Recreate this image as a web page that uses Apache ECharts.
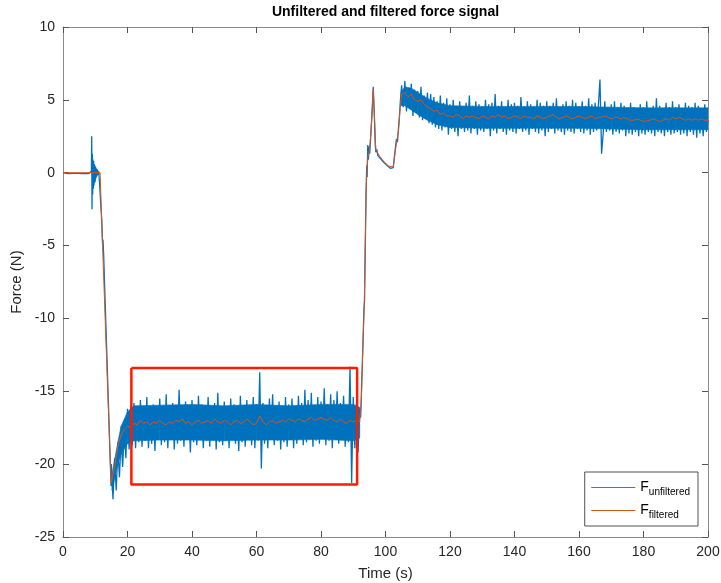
<!DOCTYPE html>
<html>
<head>
<meta charset="utf-8">
<script src="https://cdn.jsdelivr.net/npm/echarts@6/dist/echarts.min.js"></script>
<style>html,body{margin:0;padding:0;background:#fff}#c{width:721px;height:583px}</style>
</head>
<body>
<div id="c"></div>
<script>
// ---- data ----
const titleText = 'Unfiltered and filtered force signal';
const xTicks = [0, 20, 40, 60, 80, 100, 120, 140, 160, 180, 200];
const yTicks = [-25, -20, -15, -10, -5, 0, 5, 10];

// unfiltered signal pieces
const quietStart = 0, quietStep = 0.5;
const quietForce = [0,0.05,-0.05,0.04,-0.06,0.05,-0.04,0.06,-0.05,0.04,-0.05,0.06,-0.06,0.05,-0.04,0.05,-0.06,0.04];
const burstStart = 8.8, burstStep = 0.1;
const burstForce = [0.1,2.5,-2.5,1.3,-1.5,0.9,-1.1,0.8,-0.9,0.6,-0.7,0.5,-0.6,0.4,-0.4,0.3,-0.3,0.25,-0.2,0.2,-0.15,0.12,-0.1,0.08,-0.05,0.03,0];
const dropPoints = [[11.6,0],[12.0,-3.2],[12.2,-4.4],[12.3,-5.0],[12.4,-4.6],[12.6,-5.6],[14.9,-21.5]];
const plateauStart = 15, plateauStep = 0.5;
const plateauForce = [
 -20.0,-22.4,-19.6,-21.8,-19.0,-20.9,-18.3,-20.2,-17.6,-19.6,
 -16.2,-19.0,-16.0,-18.7,-15.8,-18.9,-16.4,-18.5,-15.6,-18.8,
 -16.1,-18.4,-15.4,-18.9,-16.3,-18.6,-15.9,-19.1,-16.2,-18.3,
 -15.5,-18.7,-16.0,-18.5,-15.2,-18.9,-16.3,-18.2,-15.8,-19.0,
 -16.1,-18.6,-14.9,-18.4,-16.0,-18.8,-15.7,-18.3,-16.2,-19.2,
 -15.6,-18.5,-16.1,-18.7,-15.3,-18.2,-15.9,-18.9,-16.3,-18.4,
 -15.4,-18.8,-16.0,-18.3,-15.8,-19.0,-15.1,-18.5,-16.2,-18.7,
 -15.7,-18.4,-16.1,-18.9,-15.5,-18.2,-15.9,-18.6,-16.3,-19.1,
 -15.3,-18.5,-16.0,-18.8,-15.6,-18.3,-16.2,-18.7,-15.4,-18.9,
 -15.9,-18.4,-13.7,-20.3,-15.8,-18.6,-16.1,-18.9,-15.5,-18.3,
 -15.2,-18.7,-16.0,-18.4,-15.7,-19.0,-16.2,-18.5,-15.4,-18.8,
 -15.9,-18.3,-15.5,-18.9,-16.1,-18.6,-15.3,-18.2,-15.8,-18.7,
 -14.9,-18.5,-15.6,-18.3,-15.1,-18.8,-16.0,-18.4,-15.4,-18.6,
 -15.7,-18.2,-14.8,-18.7,-15.9,-18.4,-15.2,-18.9,-15.6,-18.3,
 -15.0,-18.6,-15.8,-18.2,-15.3,-18.8,-16.0,-18.5,-13.3,-21.3,
 -15.4,-18.9,-15.8,-19.2,-16.2];
const risePoints = [[92.3,-16.8],[92.6,-14.5],[93.0,-11.8],[93.3,-9.4],[93.5,-8.8],[93.8,-4.0],[94.0,-1.0],[94.2,0.5],[94.3,-0.3],[94.5,1.9],[94.7,0.9],[94.9,1.8],[95.1,1.3],[95.4,2.4],[95.8,4.0],[96.2,5.9],[96.5,4.2],[96.8,2.0],[97.0,1.4],[97.3,1.6],[97.6,1.2],[98,1.25],[98.5,0.95],[99,1.0],[99.5,0.7],[100,0.75],[100.5,0.5],[101,0.45],[101.5,0.3],[102,0.4],[102.4,0.35],[102.8,1.2],[103.1,1.8],[103.4,2.3],[103.7,2.1],[104.0,3.0],[104.3,3.8],[104.6,4.9]];
const holdStart = 105, holdStep = 0.5;
const holdForce = [
 6.0,4.5,6.3,4.2,5.8,4.4,6.1,3.9,5.7,4.1,
 5.6,3.8,5.9,3.6,5.3,3.9,5.5,3.4,5.4,3.3,
 5.2,3.1,4.9,3.0,5.3,2.9,4.8,3.1,5.1,2.6,
 4.7,3.0,5.0,2.8,4.6,2.5,4.9,3.0,4.5,2.8,
 4.8,2.9,5.3,2.7,4.6,3.0,4.9,2.6,4.7,2.9,
 4.5,2.8,5.0,3.0,4.7,2.5,4.8,2.9,5.4,2.7,
 4.6,3.0,4.9,2.8,4.5,2.6,5.0,2.9,4.7,2.8,
 4.8,2.7,4.6,3.0,5.2,2.8,4.5,2.9,4.9,2.6,
 4.7,3.0,4.5,2.8,5.0,2.7,4.8,2.9,4.6,2.5,
 4.9,2.8,4.6,3.0,4.8,2.7,5.1,2.9,4.5,2.8,
 4.7,2.6,4.9,2.9,4.6,2.8,5.0,2.7,4.8,3.0,
 4.5,2.8,4.9,2.7,4.6,2.9,5.1,2.6,4.7,2.8,
 4.8,2.9,4.6,6.4,1.3,2.7,4.9,2.8,4.5,2.9,
 4.7,2.6,4.9,2.8,4.5,2.7,4.8,2.9,4.6,2.5,
 4.4,2.7,4.8,2.6,4.5,2.8,4.3,2.5,4.7,2.7,
 4.5,2.6,4.9,2.8,4.4,2.7,4.6,2.5,5.1,2.8,
 4.6,2.7,4.4,2.5,4.8,2.8,4.5,2.6,4.9,2.7,
 4.5,2.8,4.7,2.6,4.4,2.7,4.8,2.5,4.6,2.8,
 4.5,2.6,4.8,2.4,4.6,2.7,4.3,2.5,4.7,2.8,
 3.6];

// dense core of the unfiltered noise (envelope)
const plateauBandTime = [15.2, 16, 17, 18, 20, 22, 30, 40, 50, 60, 70, 80, 90, 92];
const plateauBandHigh = [-20.7, -19.7, -18.5, -17.4, -16.4, -16.0, -15.95, -15.9, -16.0, -15.9, -16.0, -15.9, -15.9, -16.1];
const plateauBandLow  = [-21.8, -21.0, -20.0, -19.3, -18.6, -18.4, -18.35, -18.35, -18.4, -18.35, -18.35, -18.3, -18.4, -18.2];
const holdBandTime = [104.8, 106, 108, 110, 113, 116, 120, 130, 140, 150, 160, 170, 180, 190, 200];
const holdBandHigh = [5.5, 5.9, 5.8, 5.5, 5.1, 4.8, 4.6, 4.55, 4.55, 4.55, 4.55, 4.5, 4.45, 4.45, 4.45];
const holdBandLow  = [4.6, 4.6, 4.3, 4.0, 3.6, 3.3, 3.1, 3.05, 3.05, 3.05, 3.05, 3.0, 2.95, 2.95, 2.95];

// filtered signal pieces
const filtEarly = [[0,0],[11.5,0],[12.2,-4.6],[14.9,-21.3],[16,-20.2],[17,-18.8],[18,-18.0],[19,-17.6],[20,-17.4],[21,-17.5],[22,-17.2]];
const filtPlateauStart = 23, filtPlateauStep = 1;
const filtPlateau = [
 -17.3,-17.0,-17.2,-17.1,-17.3,-17.1,-17.2,-17.0,-17.2,-17.3,
 -17.1,-17.2,-17.0,-17.1,-16.9,-17.2,-17.1,-17.3,-17.1,-17.0,
 -17.2,-17.1,-17.0,-17.2,-16.9,-17.1,-17.2,-17.0,-17.1,-17.3,
 -17.1,-17.0,-17.2,-17.1,-16.9,-17.1,-17.3,-17.2,-16.7,-17.1,
 -17.3,-17.1,-17.0,-17.2,-17.1,-17.0,-17.1,-16.9,-17.0,-17.1,
 -16.9,-17.0,-17.1,-16.9,-16.8,-17.0,-16.9,-16.8,-16.9,-17.0,
 -16.8,-17.0,-17.1,-16.9,-17.1,-17.2,-17.0,-17.1,-17.0,-17.1];
const filtRise = [[92.5,-15.8],[93.0,-11.8],[93.4,-9.3],[94.0,-1.2],[94.3,0.4],[94.6,1.2],[95.0,1.5],[95.5,2.8],[96.2,5.7],[96.6,3.7],[97.0,1.6],[98,1.2],[99,0.9],[100,0.65],[101,0.45],[102.4,0.4],[103,1.4],[103.5,2.2],[104,2.8],[104.5,4.3]];
const filtHoldStart = 105, filtHoldStep = 1;
const filtHold = [
 5.4,5.5,5.2,5.4,5.0,4.9,5.0,4.7,4.5,4.4,
 4.2,4.3,4.0,4.1,3.9,3.9,3.8,4.0,3.9,3.7,
 3.9,3.8,3.9,3.8,3.7,3.9,3.8,3.7,3.9,3.8,
 4.0,3.8,3.9,3.7,3.8,3.9,3.8,3.7,3.9,3.8,
 3.8,3.7,3.9,3.8,3.7,3.8,3.9,4.0,3.8,3.7,
 3.8,3.9,3.8,3.7,3.8,3.9,3.8,3.7,3.8,3.9,
 3.7,3.8,3.8,3.9,3.8,3.7,3.8,3.8,3.7,3.8,
 3.7,3.6,3.6,3.7,3.6,3.5,3.6,3.6,3.7,3.6,
 3.5,3.6,3.7,3.6,3.8,3.7,3.8,3.7,3.6,3.7,
 3.6,3.7,3.6,3.7,3.6,3.6];

// highlighted region (red rectangle)
const boxTime = [21.2, 91.2];
const boxForce = [-21.4, -13.4];

// ---- build series data ----
function seq(start, step, vals) { return vals.map((v, i) => [+(start + i * step).toFixed(3), v]); }
const unfiltered = [].concat(
  seq(quietStart, quietStep, quietForce),
  seq(burstStart, burstStep, burstForce),
  dropPoints,
  seq(plateauStart, plateauStep, plateauForce),
  risePoints,
  seq(holdStart, holdStep, holdForce)
);
const filtered = [].concat(
  filtEarly,
  seq(filtPlateauStart, filtPlateauStep, filtPlateau),
  filtRise,
  seq(filtHoldStart, filtHoldStep, filtHold)
);
const boxData = [[boxTime[0], boxForce[1]], [boxTime[1], boxForce[1]], [boxTime[1], boxForce[0]], [boxTime[0], boxForce[0]], [boxTime[0], boxForce[1]]];
// band rows: [t, low, high, group]
const bandRows = [].concat(
  plateauBandTime.map((t, i) => [t, plateauBandLow[i], plateauBandHigh[i], 0]),
  holdBandTime.map((t, i) => [t, holdBandLow[i], holdBandHigh[i], 1])
);

const FONT = 'Liberation Sans, Arial, Helvetica, sans-serif';
const axisCol = '#262626';
const lineCol = '#8a8a8a';
const BLUE = '#0072BD', ORANGE = '#D95319';

const chart = echarts.init(document.getElementById('c'), null, { renderer: 'canvas' });
chart.setOption({
  animation: false,
  backgroundColor: '#ffffff',
  grid: { left: 63, right: 13, top: 27, bottom: 46, containLabel: false, outerBoundsMode: 'none' },
  graphic: [{
    type: 'text', x: 385.5, y: 5,
    style: { text: titleText, font: 'bold 14px ' + FONT, fill: '#000', textAlign: 'center', textVerticalAlign: 'top' }
  }],
  legend: {
    right: 23, bottom: 57,
    orient: 'vertical',
    data: [
      { name: 'unfiltered', lineStyle: { color: '#1f86cc', width: 1.2 } },
      { name: 'filtered', lineStyle: { color: ORANGE, width: 1 } }
    ],
    itemWidth: 44, itemHeight: 10, itemGap: 4,
    padding: [6, 8, 6, 6],
    backgroundColor: '#fff',
    borderColor: '#262626', borderWidth: 0.8, borderRadius: 0,
    itemStyle: { color: 'transparent', borderWidth: 0, opacity: 0 },
    formatter: n => '{a|F}{b|' + n + '}',
    textStyle: {
      color: '#000', fontFamily: FONT,
      rich: {
        a: { fontSize: 14, fontFamily: FONT, color: '#000', lineHeight: 18 },
        b: { fontSize: 10, fontFamily: FONT, color: '#000', padding: [9, 0, 0, 0], lineHeight: 18 }
      }
    }
  },
  xAxis: [{
    type: 'value', min: 0, max: 200, interval: 20, position: 'bottom',
    name: 'Time (s)', nameLocation: 'middle', nameGap: 29,
    nameTextStyle: { fontSize: 15, color: axisCol, fontFamily: FONT },
    axisLine: { show: true, onZero: false, lineStyle: { color: lineCol, width: 1 } },
    axisTick: { show: true, inside: true, length: 6, lineStyle: { color: '#555' } },
    axisLabel: { fontSize: 14, color: axisCol, fontFamily: FONT, margin: 8 },
    splitLine: { show: false }
  }, {
    type: 'value', min: 0, max: 200, interval: 20, position: 'top',
    axisLine: { show: true, onZero: false, lineStyle: { color: lineCol, width: 1 } },
    axisTick: { show: true, inside: true, length: 6, lineStyle: { color: '#555' } },
    axisLabel: { show: false }, splitLine: { show: false }
  }],
  yAxis: [{
    type: 'value', min: -25, max: 10, interval: 5, position: 'left',
    name: 'Force (N)', nameLocation: 'middle', nameGap: 30, nameRotate: 90,
    nameTextStyle: { fontSize: 15, color: axisCol, fontFamily: FONT },
    axisLine: { show: true, onZero: false, lineStyle: { color: lineCol, width: 1 } },
    axisTick: { show: true, inside: true, length: 6, lineStyle: { color: '#555' } },
    axisLabel: { fontSize: 14, color: axisCol, fontFamily: FONT, margin: 8 },
    splitLine: { show: false }
  }, {
    type: 'value', min: -25, max: 10, interval: 5, position: 'right',
    axisLine: { show: true, onZero: false, lineStyle: { color: lineCol, width: 1 } },
    axisTick: { show: true, inside: true, length: 6, lineStyle: { color: '#555' } },
    axisLabel: { show: false }, splitLine: { show: false }
  }],
  series: [{
    name: 'core', type: 'custom', data: bandRows,
    xAxisIndex: 0, yAxisIndex: 0, clip: true, silent: true, z: 1,
    renderItem: function (params, api) {
      const i = params.dataIndex;
      const next = bandRows[i + 1];
      if (!next || next[3] !== bandRows[i][3]) return null;
      const cur = bandRows[i];
      const pts = [
        api.coord([cur[0], cur[2]]), api.coord([next[0], next[2]]),
        api.coord([next[0], next[1]]), api.coord([cur[0], cur[1]])
      ];
      return {
        type: 'polygon', shape: { points: pts },
        style: { fill: BLUE, stroke: BLUE, lineWidth: 0.6 }
      };
    }
  }, {
    name: 'unfiltered', type: 'line', data: unfiltered,
    xAxisIndex: 0, yAxisIndex: 0,
    symbol: 'none', showSymbol: false,
    lineStyle: { color: BLUE, width: 1.3 }, itemStyle: { color: BLUE },
    z: 2
  }, {
    name: 'filtered', type: 'line', data: filtered,
    xAxisIndex: 0, yAxisIndex: 0,
    symbol: 'none', showSymbol: false,
    lineStyle: { color: ORANGE, width: 1 }, itemStyle: { color: ORANGE },
    z: 3
  }, {
    name: 'box', type: 'line', data: boxData,
    xAxisIndex: 0, yAxisIndex: 0,
    symbol: 'none', showSymbol: false,
    lineStyle: { color: '#ff1a00', width: 2.5 },
    z: 4
  }]
});
</script>
</body>
</html>
